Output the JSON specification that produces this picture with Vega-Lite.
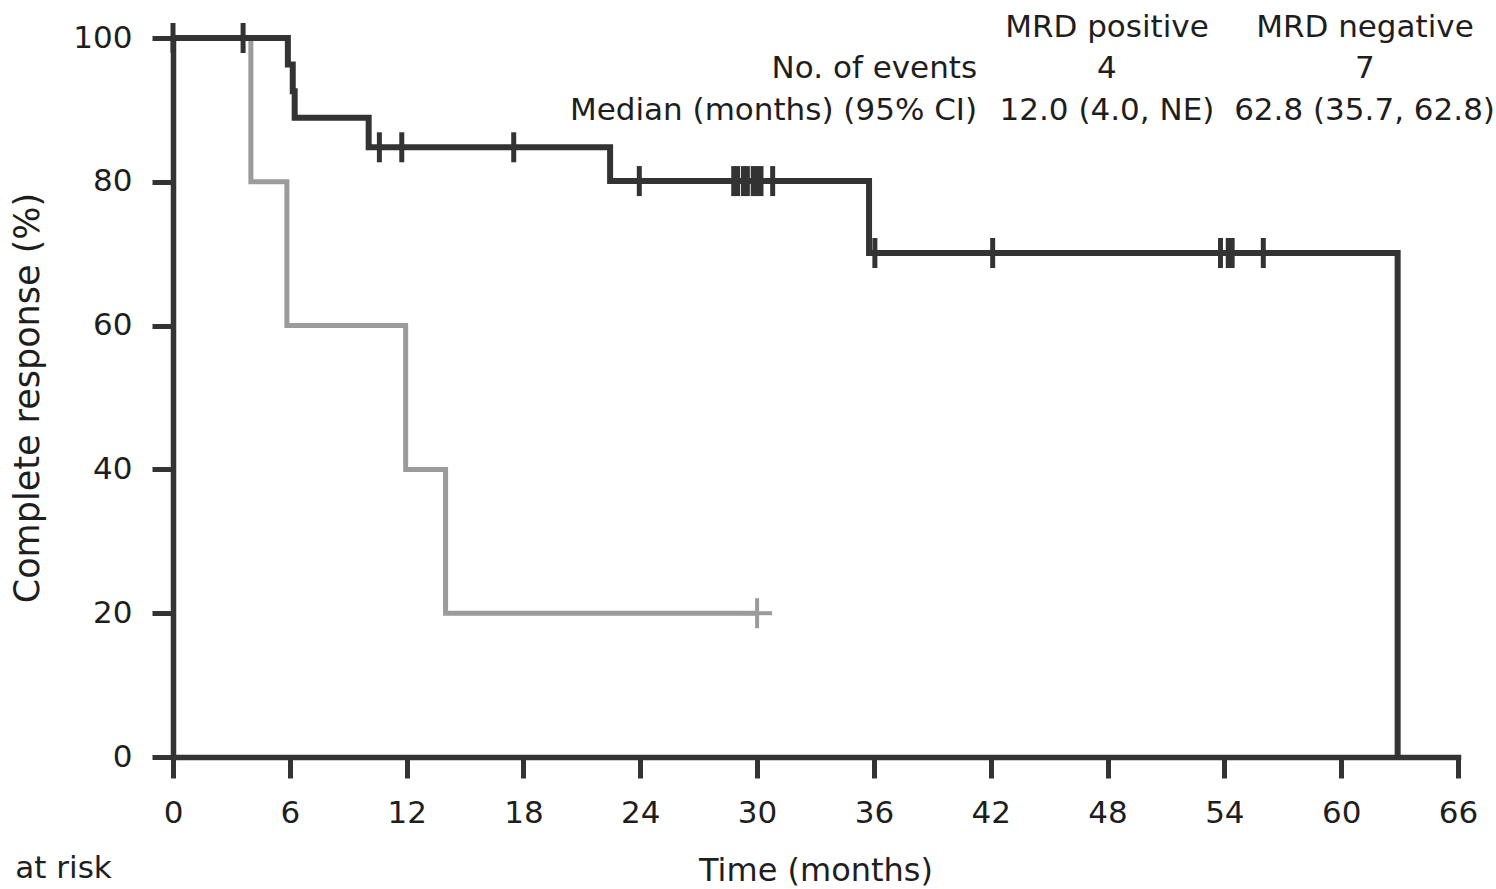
{
  "$schema": "https://vega.github.io/schema/vega-lite/v6.json",
  "width": 1285,
  "height": 719,
  "autosize": {"type": "none"},
  "padding": {"left": 173, "top": 38, "right": 38, "bottom": 132},
  "background": "white",
  "config": {
    "view": {"stroke": null},
    "font": "DejaVu Sans",
    "axis": {
      "grid": false,
      "domainColor": "#333333",
      "tickColor": "#333333",
      "domainWidth": 5.5,
      "tickWidth": 5,
      "tickSize": 21,
      "domainCap": "square",
      "labelFont": "DejaVu Sans",
      "labelFontSize": 31,
      "labelColor": "#1e1e1e",
      "titleFont": "DejaVu Sans",
      "titleFontSize": 32,
      "titleFontWeight": "normal",
      "titleColor": "#1e1e1e",
      "labelFlush": false,
      "labelOverlap": false,
      "labelBound": false
    }
  },
  "datasets": {
    "km": [
      {"group": "MRD positive", "time": 0, "pct": 100},
      {"group": "MRD positive", "time": 4.0, "pct": 80},
      {"group": "MRD positive", "time": 5.85, "pct": 60},
      {"group": "MRD positive", "time": 11.95, "pct": 40},
      {"group": "MRD positive", "time": 14.0, "pct": 20},
      {"group": "MRD positive", "time": 30.0, "pct": 20},
      {"group": "MRD negative", "time": 0, "pct": 100},
      {"group": "MRD negative", "time": 5.9, "pct": 96.3},
      {"group": "MRD negative", "time": 6.15, "pct": 92.6},
      {"group": "MRD negative", "time": 6.25, "pct": 88.9},
      {"group": "MRD negative", "time": 10.05, "pct": 84.8},
      {"group": "MRD negative", "time": 22.45, "pct": 80.1},
      {"group": "MRD negative", "time": 35.75, "pct": 70.1},
      {"group": "MRD negative", "time": 62.9, "pct": 0}
    ],
    "censor": [
      {"group": "MRD positive", "time": 30.0, "pct": 20},
      {"group": "MRD negative", "time": 0, "pct": 100},
      {"group": "MRD negative", "time": 3.6, "pct": 100},
      {"group": "MRD negative", "time": 10.6, "pct": 84.8},
      {"group": "MRD negative", "time": 11.75, "pct": 84.8},
      {"group": "MRD negative", "time": 17.5, "pct": 84.8},
      {"group": "MRD negative", "time": 23.95, "pct": 80.1},
      {"group": "MRD negative", "time": 28.8, "pct": 80.1},
      {"group": "MRD negative", "time": 29.0, "pct": 80.1},
      {"group": "MRD negative", "time": 29.3, "pct": 80.1},
      {"group": "MRD negative", "time": 29.5, "pct": 80.1},
      {"group": "MRD negative", "time": 29.8, "pct": 80.1},
      {"group": "MRD negative", "time": 30.0, "pct": 80.1},
      {"group": "MRD negative", "time": 30.2, "pct": 80.1},
      {"group": "MRD negative", "time": 30.8, "pct": 80.1},
      {"group": "MRD negative", "time": 36.05, "pct": 70.1},
      {"group": "MRD negative", "time": 42.1, "pct": 70.1},
      {"group": "MRD negative", "time": 53.8, "pct": 70.1},
      {"group": "MRD negative", "time": 54.2, "pct": 70.1},
      {"group": "MRD negative", "time": 54.4, "pct": 70.1},
      {"group": "MRD negative", "time": 56.0, "pct": 70.1}
    ],
    "labels": [
      {"kind": "right", "text": "No. of events", "time": 41.3, "pct": 94.4},
      {"kind": "right", "text": "Median (months) (95% CI)", "time": 41.3, "pct": 88.6},
      {"kind": "center", "text": "MRD positive", "time": 47.97, "pct": 100.14},
      {"kind": "center", "text": "MRD negative", "time": 61.22, "pct": 100.14},
      {"kind": "center", "text": "4", "time": 47.97, "pct": 94.4},
      {"kind": "center", "text": "7", "time": 61.22, "pct": 94.4},
      {"kind": "center", "text": "12.0 (4.0, NE)", "time": 47.97, "pct": 88.6},
      {"kind": "center", "text": "62.8 (35.7, 62.8)", "time": 61.2, "pct": 88.6},
      {"kind": "left", "text": "at risk", "time": -8.1, "pct": -16.8}
    ]
  },
  "layer": [
    {
      "data": {"name": "km"},
      "transform": [{"filter": "datum.group === 'MRD positive'"}],
      "mark": {"type": "line", "interpolate": "step-after", "strokeWidth": 5, "color": "#9b9b9b", "strokeCap": "butt", "strokeJoin": "miter"},
      "encoding": {
        "x": {
          "field": "time", "type": "quantitative",
          "scale": {"domain": [0, 66], "nice": false, "zero": false},
          "axis": {"values": [0, 6, 12, 18, 24, 30, 36, 42, 48, 54, 60, 66], "title": "Time (months)", "labelPadding": 20, "titlePadding": 27}
        },
        "y": {
          "field": "pct", "type": "quantitative",
          "scale": {"domain": [0, 100], "nice": false},
          "axis": {"values": [0, 20, 40, 60, 80, 100], "title": "Complete response (%)", "labelPadding": 20, "titlePadding": 27, "titleFontSize": 35}
        }
      }
    },
    {
      "data": {"name": "censor"},
      "transform": [{"filter": "datum.group === 'MRD positive'"}],
      "mark": {"type": "tick", "orient": "vertical", "size": 30, "thickness": 4, "color": "#9b9b9b", "opacity": 1},
      "encoding": {
        "x": {"field": "time", "type": "quantitative"},
        "y": {"field": "pct", "type": "quantitative"}
      }
    },
    {
      "data": {"name": "censor"},
      "transform": [{"filter": "datum.group === 'MRD positive'"}],
      "mark": {"type": "tick", "orient": "horizontal", "size": 30, "thickness": 4, "color": "#9b9b9b", "opacity": 1},
      "encoding": {
        "x": {"field": "time", "type": "quantitative"},
        "y": {"field": "pct", "type": "quantitative"}
      }
    },
    {
      "data": {"name": "km"},
      "transform": [{"filter": "datum.group === 'MRD negative'"}],
      "mark": {"type": "line", "interpolate": "step-after", "strokeWidth": 6, "color": "#333333", "strokeCap": "butt", "strokeJoin": "miter"},
      "encoding": {
        "x": {"field": "time", "type": "quantitative"},
        "y": {"field": "pct", "type": "quantitative"}
      }
    },
    {
      "data": {"name": "censor"},
      "transform": [{"filter": "datum.group === 'MRD negative'"}],
      "mark": {"type": "tick", "orient": "vertical", "size": 30, "thickness": 5, "color": "#333333", "opacity": 1},
      "encoding": {
        "x": {"field": "time", "type": "quantitative"},
        "y": {"field": "pct", "type": "quantitative"}
      }
    },
    {
      "data": {"name": "labels"},
      "transform": [{"filter": "datum.kind === 'right'"}],
      "mark": {"type": "text", "align": "right", "baseline": "alphabetic", "fontSize": 31, "font": "DejaVu Sans", "color": "#1e1e1e"},
      "encoding": {
        "x": {"field": "time", "type": "quantitative"},
        "y": {"field": "pct", "type": "quantitative"},
        "text": {"field": "text"}
      }
    },
    {
      "data": {"name": "labels"},
      "transform": [{"filter": "datum.kind === 'center'"}],
      "mark": {"type": "text", "align": "center", "baseline": "alphabetic", "fontSize": 31, "font": "DejaVu Sans", "color": "#1e1e1e"},
      "encoding": {
        "x": {"field": "time", "type": "quantitative"},
        "y": {"field": "pct", "type": "quantitative"},
        "text": {"field": "text"}
      }
    },
    {
      "data": {"name": "labels"},
      "transform": [{"filter": "datum.kind === 'left'"}],
      "mark": {"type": "text", "align": "left", "baseline": "alphabetic", "fontSize": 31, "font": "DejaVu Sans", "color": "#1e1e1e"},
      "encoding": {
        "x": {"field": "time", "type": "quantitative"},
        "y": {"field": "pct", "type": "quantitative"},
        "text": {"field": "text"}
      }
    }
  ]
}
